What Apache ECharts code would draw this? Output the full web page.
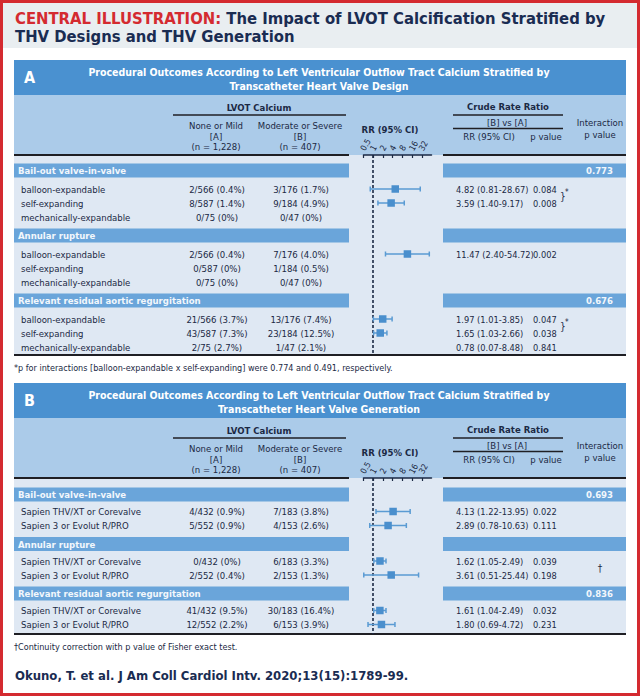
<!DOCTYPE html>
<html><head><meta charset="utf-8">
<script src="https://cdn.jsdelivr.net/npm/echarts@6/dist/echarts.min.js"></script>
<style>html,body{margin:0;padding:0;background:#fff}#c{width:640px;height:696px}</style>
</head><body><div id="c"></div>
<script>
// ================= DATA =================
const titleRed = 'CENTRAL ILLUSTRATION:';
const titleLine1 = 'The Impact of LVOT Calcification Stratified by';
const titleLine2 = 'THV Designs and THV Generation';
const citation = 'Okuno, T. et al. J Am Coll Cardiol Intv. 2020;13(15):1789-99.';

const rrTicks = [0.5, 1, 2, 4, 8, 16, 32];
const sectionNames = ['Bail-out valve-in-valve', 'Annular rupture', 'Relevant residual aortic regurgitation'];

// Panel A: THV design
const aTitle = ['Procedural Outcomes According to Left Ventricular Outflow Tract Calcium Stratified by', 'Transcatheter Heart Valve Design'];
const aInteraction = ['0.773', '', '0.676'];
const aRowSection = [0, 0, 0, 1, 1, 1, 2, 2, 2];
const aRowLabels = ['balloon-expandable', 'self-expanding', 'mechanically-expandable',
  'balloon-expandable', 'self-expanding', 'mechanically-expandable',
  'balloon-expandable', 'self-expanding', 'mechanically-expandable'];
const aGroupA = ['2/566 (0.4%)', '8/587 (1.4%)', '0/75 (0%)', '2/566 (0.4%)', '0/587 (0%)', '0/75 (0%)', '21/566 (3.7%)', '43/587 (7.3%)', '2/75 (2.7%)'];
const aGroupB = ['3/176 (1.7%)', '9/184 (4.9%)', '0/47 (0%)', '7/176 (4.0%)', '1/184 (0.5%)', '0/47 (0%)', '13/176 (7.4%)', '23/184 (12.5%)', '1/47 (2.1%)'];
const aRR = [4.82, 3.59, null, 11.47, null, null, 1.97, 1.65, 0.78];
const aLo = [0.81, 1.40, null, 2.40, null, null, 1.01, 1.03, 0.07];
const aHi = [28.67, 9.17, null, 54.72, null, null, 3.85, 2.66, 8.48];
const aP = ['0.084', '0.008', '', '0.002', '', '', '0.047', '0.038', '0.841'];
const aPlotted = [true, true, false, true, false, false, true, true, false];
const aMarks = [{ rows: [0, 1], text: '}*' }, { rows: [6, 7], text: '}*' }];
const aFootnote = '*p for interactions [balloon-expandable x self-expanding] were 0.774 and 0.491, respectively.';

// Panel B: THV generation
const bTitle = ['Procedural Outcomes According to Left Ventricular Outflow Tract Calcium Stratified by', 'Transcatheter Heart Valve Generation'];
const bInteraction = ['0.693', '', '0.836'];
const bRowSection = [0, 0, 1, 1, 2, 2];
const bRowLabels = ['Sapien THV/XT or Corevalve', 'Sapien 3 or Evolut R/PRO',
  'Sapien THV/XT or Corevalve', 'Sapien 3 or Evolut R/PRO',
  'Sapien THV/XT or Corevalve', 'Sapien 3 or Evolut R/PRO'];
const bGroupA = ['4/432 (0.9%)', '5/552 (0.9%)', '0/432 (0%)', '2/552 (0.4%)', '41/432 (9.5%)', '12/552 (2.2%)'];
const bGroupB = ['7/183 (3.8%)', '4/153 (2.6%)', '6/183 (3.3%)', '2/153 (1.3%)', '30/183 (16.4%)', '6/153 (3.9%)'];
const bRR = [4.13, 2.89, 1.62, 3.61, 1.61, 1.80];
const bLo = [1.22, 0.78, 1.05, 0.51, 1.04, 0.69];
const bHi = [13.95, 10.63, 2.49, 25.44, 2.49, 4.72];
const bP = ['0.022', '0.111', '0.039', '0.198', '0.032', '0.231'];
const bPlotted = [true, true, true, true, true, true];
const bMarks = [{ rows: [2, 3], text: '\u2020', x: 600 }];
const bFootnote = '\u2020Continuity correction with p value of Fisher exact test.';

const colHeaders = {
  lvot: 'LVOT Calcium', none: ['None or Mild', '[A]', '(n = 1,228)'], mod: ['Moderate or Severe', '[B]', '(n = 407)'],
  rr: 'RR (95% CI)', crude: 'Crude Rate Ratio', bva: '[B] vs [A]', rrci: 'RR (95% CI)', pval: 'p value', inter: ['Interaction', 'p value']
};

// ================= STYLE / LAYOUT =================
const FF = '"DejaVu Sans Condensed","Liberation Sans Narrow",sans-serif';
const FS = 9.5;
const NAVY = '#1b2944';
const C = { red: '#d42a30', band: '#e9eef1', head: '#4a91d0', sub: '#abcbe9', rows: '#dfe8f3', bar: '#6aa5da', sq: '#4a8fcd', ci: '#5a9bd3', line: '#1f1f24' };
const X0 = 14, X1 = 626, LB = 349, RB = 443;
const FX = 363.5, FW = 68;

function layoutRows(sec, firstBar, firstGap, rowGap, barGap) {
  let y = firstBar, cur = 0;
  const barY = [firstBar], rowY = [];
  for (let i = 0; i < sec.length; i++) {
    if (i === 0) y += firstGap;
    else if (sec[i] !== cur) { y += barGap; barY.push(y); y += firstGap; cur = sec[i]; }
    else y += rowGap;
    rowY.push(y);
  }
  return { barY, rowY };
}

const panels = [
  { top: 60, rowsH: 200, letter: 'A', title: aTitle, inter: aInteraction, sec: aRowSection, labels: aRowLabels,
    ga: aGroupA, gb: aGroupB, rr: aRR, lo: aLo, hi: aHi, p: aP, plotted: aPlotted, marks: aMarks, foot: aFootnote,
    lay: layoutRows(aRowSection, 15.5, 18.5, 14, 18.5) },
  { top: 383, rowsH: 156, letter: 'B', title: bTitle, inter: bInteraction, sec: bRowSection, labels: bRowLabels,
    ga: bGroupA, gb: bGroupB, rr: bRR, lo: bLo, hi: bHi, p: bP, plotted: bPlotted, marks: bMarks, foot: bFootnote,
    lay: layoutRows(bRowSection, 16.5, 17, 14, 18.5) }
];

const els = [];
function rect(x, y, w, h, fill, z) { els.push({ type: 'rect', z: z || 0, shape: { x, y, width: w, height: h }, style: { fill } }); }
function hline(x1, x2, y, w, color) { els.push({ type: 'line', z: 2, shape: { x1, y1: y, x2, y2: y }, style: { stroke: color || C.line, lineWidth: w || 1.5 } }); }
function txt(t, x, y, o) {
  o = o || {};
  els.push({ type: 'text', z: 5, style: { text: t, x, y, fill: o.fill || NAVY, textAlign: o.align || 'left', textVerticalAlign: 'middle',
    fontFamily: o.ff || FF, fontSize: o.size || FS, fontWeight: o.weight || 'normal', rich: o.rich } });
}

// frame and title
rect(0, 0, 640, 696, C.red, -2);
rect(3, 3, 634, 690, '#ffffff', -1);
rect(3, 3, 634, 45, C.band, 0);
txt('{r|' + titleRed + '} {n|' + titleLine1 + '}', 15, 18, { size: 16.5, weight: 'bold', rich: {
  r: { fill: C.red, fontSize: 16.5, fontWeight: 'bold', fontFamily: FF },
  n: { fill: '#1a2c52', fontSize: 16.5, fontWeight: 'bold', fontFamily: FF } } });
txt(titleLine2, 15, 36, { size: 16.5, weight: 'bold', fill: '#1a2c52' });
txt(citation, 15, 675, { size: 13, weight: 'bold', fill: '#1a2c52' });

panels.forEach(P => {
  const t = P.top, rt = t + 95, rb = rt + P.rowsH;
  rect(X0, t, X1 - X0, 35, C.head);
  rect(X0, t + 35, X1 - X0, 60, C.sub);
  rect(X0, rt, X1 - X0, P.rowsH, C.rows);
  txt(P.letter, 24, t + 17, { size: 16, weight: 'bold', fill: '#fff' });
  txt(P.title[0], 319, t + 11.5, { size: 10.5, weight: 'bold', fill: '#fff', align: 'center' });
  txt(P.title[1], 319, t + 26, { size: 10.5, weight: 'bold', fill: '#fff', align: 'center' });
  // column headers
  txt(colHeaders.lvot, 259, t + 47, { weight: 'bold', align: 'center' });
  hline(173, 346, t + 55);
  colHeaders.none.forEach((s, i) => txt(s, 216, t + 65.5 + i * 10.5, { align: 'center' }));
  colHeaders.mod.forEach((s, i) => txt(s, 300, t + 65.5 + i * 10.5, { align: 'center' }));
  txt(colHeaders.rr, 390, t + 69, { weight: 'bold', align: 'center' });
  txt(colHeaders.crude, 508, t + 46, { weight: 'bold', align: 'center' });
  hline(453, 563, t + 55);
  txt(colHeaders.bva, 507, t + 62.5, { align: 'center' });
  hline(453, 563, t + 68.5);
  txt(colHeaders.rrci, 489, t + 76, { align: 'center' });
  txt(colHeaders.pval, 546, t + 76, { align: 'center' });
  txt(colHeaders.inter[0], 600, t + 62.5, { align: 'center' });
  txt(colHeaders.inter[1], 600, t + 74, { align: 'center' });
  hline(X0, LB, rt, 2);
  hline(RB, X1, rt, 2);
  hline(X0, X1, rb, 2);
  // section bars
  P.lay.barY.forEach((by, s) => {
    const y = rt + by;
    rect(X0, y - 7, LB - X0, 14, C.bar, 1);
    rect(RB, y - 7, X1 - RB, 14, C.bar, 1);
    txt(sectionNames[s], 18, y, { weight: 'bold', fill: '#f2f7fc' });
    if (P.inter[s]) txt(P.inter[s], 613, y, { weight: 'bold', fill: '#f2f7fc', align: 'right' });
  });
  // rows
  P.lay.rowY.forEach((ry, i) => {
    const y = rt + ry;
    txt(P.labels[i], 21, y);
    txt(P.ga[i], 217, y, { align: 'center' });
    txt(P.gb[i], 301, y, { align: 'center' });
    if (P.rr[i] != null) {
      txt(P.rr[i].toFixed(2) + ' (' + P.lo[i].toFixed(2) + '-' + P.hi[i].toFixed(2) + ')', 456, y, { size: 9.2 });
      txt(P.p[i], 533, y, { size: 9.2 });
    }
  });
  P.marks.forEach(m => {
    const y = rt + (P.lay.rowY[m.rows[0]] + P.lay.rowY[m.rows[1]]) / 2;
    if (m.text === '}*') {
      txt('}', 560, y, { size: 10 });
      txt('*', 565, y - 4, { size: 8 });
    } else txt(m.text, m.x, y, { size: 10, align: 'center' });
  });
  txt(P.foot, X0, rb + 13, { size: 9 });
});

// forest plot components
const grids = [], xAxes = [], yAxes = [], series = [];
panels.forEach((P, k) => {
  grids.push({ left: FX, width: FW, top: P.top + 95, height: P.rowsH });
  xAxes.push({ type: 'log', logBase: 2, min: 0.5, max: 64, gridIndex: k, position: 'top', z: 8,
    axisLine: { show: true, lineStyle: { color: NAVY, width: 1.5 } },
    axisTick: { show: true, inside: true, length: 3, customValues: rrTicks, lineStyle: { color: NAVY, width: 1.2 } },
    axisLabel: { show: false },
    splitLine: { show: false }, minorTick: { show: false } });
  yAxes.push({ type: 'value', gridIndex: k, min: 0, max: P.rowsH, inverse: true, show: false });
  const data = [];
  P.rr.forEach((v, i) => { if (P.plotted[i]) data.push([v, P.lo[i], P.hi[i], P.lay.rowY[i]]); });
  series.push({
    type: 'custom', xAxisIndex: k, yAxisIndex: k, clip: false, z: 10, data,
    encode: { x: [0, 1, 2], y: 3 },
    renderItem: (params, api) => {
      const y = api.value(3);
      const c = api.coord([api.value(0), y]), l = api.coord([api.value(1), y]), h = api.coord([api.value(2), y]);
      const cap = 2.5, s = 7.5, ls = { stroke: C.ci, lineWidth: 1.5 };
      return { type: 'group', children: [
        { type: 'line', shape: { x1: l[0], y1: c[1], x2: h[0], y2: c[1] }, style: ls },
        { type: 'line', shape: { x1: l[0], y1: c[1] - cap, x2: l[0], y2: c[1] + cap }, style: ls },
        { type: 'line', shape: { x1: h[0], y1: c[1] - cap, x2: h[0], y2: c[1] + cap }, style: ls },
        { type: 'rect', shape: { x: c[0] - s / 2, y: c[1] - s / 2, width: s, height: s }, style: { fill: C.sq } }
      ] };
    },
    markLine: { silent: true, symbol: 'none', label: { show: false }, animation: false,
      lineStyle: { type: [3, 2], color: NAVY, width: 1.6 }, data: [{ xAxis: 1 }] }
  });
});

const chart = echarts.init(document.getElementById('c'), null, { renderer: 'svg' });
chart.setOption({
  animation: false,
  grid: grids, xAxis: xAxes, yAxis: yAxes, series,
  graphic: { elements: els }
});
// rotated RR tick labels placed through the axis scale
panels.forEach((P, k) => {
  rrTicks.forEach(v => {
    const px = chart.convertToPixel({ xAxisIndex: k }, v);
    els.push({ type: 'text', z: 6, x: px - 1, y: P.top + 95 - 5, rotation: Math.PI / 3,
      style: { text: String(v), x: 0, y: 0, fill: NAVY, fontFamily: FF, fontSize: 8.5, textAlign: 'left', textVerticalAlign: 'middle' } });
  });
});
chart.setOption({ graphic: { elements: els } });
</script></body></html>
